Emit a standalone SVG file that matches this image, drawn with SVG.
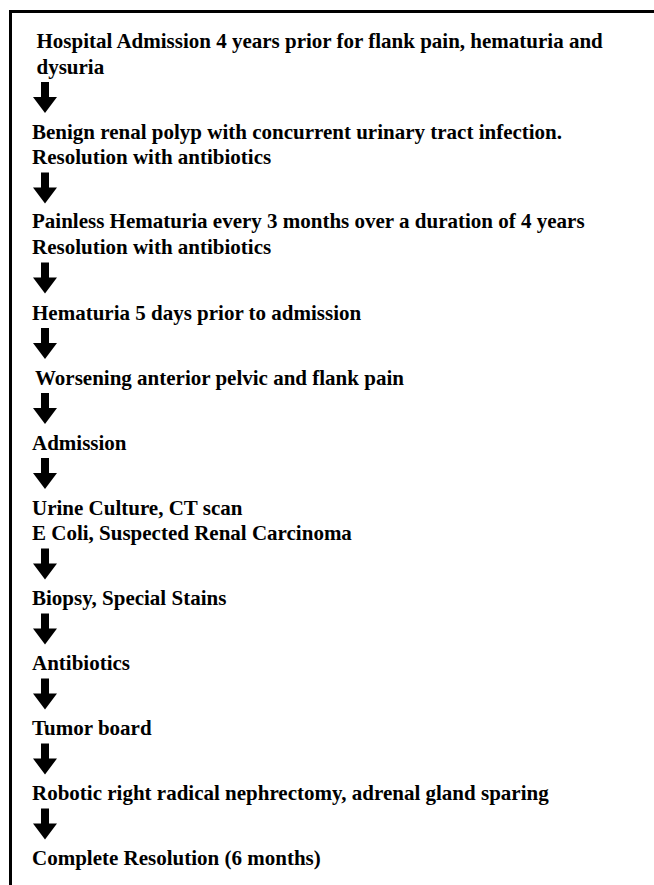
<svg xmlns="http://www.w3.org/2000/svg" xmlns:xlink="http://www.w3.org/1999/xlink" width="654" height="885" viewBox="0 0 654 885">
<style>
  text { font-family: "Liberation Serif", "Times New Roman", serif; font-weight: bold; font-size: 21px; fill: #000; }
  .arrow { fill: #000; }
</style>
<defs>
  <path id="arr" class="arrow" d="M41,8.5 H49 V23.5 H57 L45,39.5 L33,23.5 H41 Z"/>
</defs>
<rect x="0" y="0" width="654" height="885" fill="#fff"/>
<rect id="frame" x="10.5" y="11.5" width="680" height="900" fill="none" stroke="#000" stroke-width="3"/>

<g id="n1"><text x="36.5" y="47.5">Hospital Admission 4 years prior for flank pain, hematuria and</text><text x="36.5" y="73.5">dysuria</text></g>
<g id="n2"><text x="32" y="138.5">Benign renal polyp with concurrent urinary tract infection.</text><text x="32" y="164">Resolution with antibiotics</text></g>
<g id="n3"><text x="32" y="228">Painless Hematuria every 3 months over a duration of 4 years</text><text x="32" y="254">Resolution with antibiotics</text></g>
<g id="n4"><text x="32" y="319.5">Hematuria 5 days prior to admission</text></g>
<g id="n5"><text x="35" y="384.5">Worsening anterior pelvic and flank pain</text></g>
<g id="n6"><text x="32" y="449.5">Admission</text></g>
<g id="n7"><text x="32" y="514.5">Urine Culture, CT scan</text><text x="32" y="540">E Coli, Suspected Renal Carcinoma</text></g>
<g id="n8"><text x="32" y="605">Biopsy, Special Stains</text></g>
<g id="n9"><text x="32" y="670">Antibiotics</text></g>
<g id="n10"><text x="32" y="735">Tumor board</text></g>
<g id="n11"><text x="32" y="800">Robotic right radical nephrectomy, adrenal gland sparing</text></g>
<g id="n12"><text x="32" y="865">Complete Resolution (6 months)</text></g>

<g id="connectors">
  <use xlink:href="#arr" href="#arr" transform="translate(0,73.5)"/>
  <use xlink:href="#arr" href="#arr" transform="translate(0,164)"/>
  <use xlink:href="#arr" href="#arr" transform="translate(0,254)"/>
  <use xlink:href="#arr" href="#arr" transform="translate(0,319.5)"/>
  <use xlink:href="#arr" href="#arr" transform="translate(0,384.5)"/>
  <use xlink:href="#arr" href="#arr" transform="translate(0,449.5)"/>
  <use xlink:href="#arr" href="#arr" transform="translate(0,540)"/>
  <use xlink:href="#arr" href="#arr" transform="translate(0,605)"/>
  <use xlink:href="#arr" href="#arr" transform="translate(0,670)"/>
  <use xlink:href="#arr" href="#arr" transform="translate(0,735)"/>
  <use xlink:href="#arr" href="#arr" transform="translate(0,800)"/>
</g>
</svg>
